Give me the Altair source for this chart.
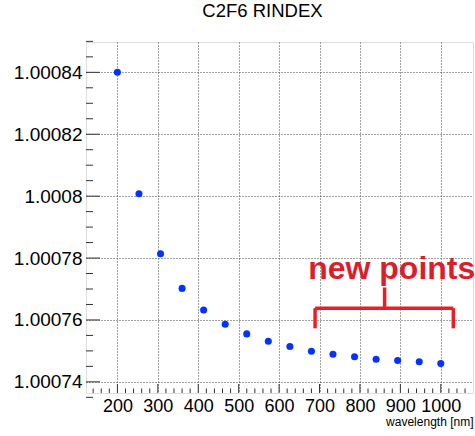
import altair as alt
import pandas as pd

# Refractive index of C2F6 versus photon wavelength
wavelength_nm = [200.0, 253.3, 306.7, 360.0, 413.3, 466.7, 520.0, 573.3,
                 626.7, 680.0, 733.3, 786.7, 840.0, 893.3, 946.7, 1000.0]
rindex = [1.000840, 1.0008008, 1.0007814, 1.0007702, 1.0007632, 1.0007586,
          1.0007555, 1.0007531, 1.0007514, 1.0007499, 1.0007489, 1.0007481,
          1.0007473, 1.0007469, 1.0007465, 1.0007459]

# Axis ranges and tick positions
x_domain = [122.3, 1079.7]
y_domain = [1.0007364, 1.0008498]
x_major = [200, 300, 400, 500, 600, 700, 800, 900, 1000]
x_minor = [v for v in range(140, 1080, 20) if v % 100 != 0]
y_major = [1.00074, 1.00076, 1.00078, 1.00080, 1.00082, 1.00084]
y_labels = ["1.00074", "1.00076", "1.00078", "1.0008", "1.00082", "1.00084"]
y_minor = [1.000740 + 0.000005 * i for i in range(-1, 23) if i % 4 != 0]

# "new points" bracket, in data coordinates
bracket_x = [689, 1031]
bracket_mid_x = 861
bracket_y = 1.0007638
bracket_leg_y = 1.0007573
bracket_tip_y = 1.0007705
label_x = 672
label_y = 1.0007733

W, H = 387, 351
BLUE = "#0433ff"
RED = "#ee1c25"
FONT = "Liberation Sans"
GRID = "#444444"

xs = alt.Scale(domain=x_domain, nice=False, zero=False)
ys = alt.Scale(domain=y_domain, nice=False, zero=False)

label_expr = "{" + ",".join(f"'{v:.5f}':'{t}'" for v, t in zip(y_major, y_labels)) + "}"

pts = pd.DataFrame({"wavelength": wavelength_nm, "rindex": rindex})

points = alt.Chart(pts).mark_circle(size=50, color=BLUE, opacity=1).encode(
    x=alt.X("wavelength:Q", scale=xs,
            axis=alt.Axis(values=x_major, title="wavelength [nm]", titleAnchor="end",
                          titleAlign="right", titleFontSize=12, titleFontWeight="normal",
                          titlePadding=1, labelFontSize=18, labelPadding=4, tickSize=0,
                          domain=False, grid=True, gridDash=[1, 2], gridColor=GRID,
                          gridOpacity=1, labelColor="black", titleColor="black",
                          labelFont=FONT, titleFont=FONT, format="d")),
    y=alt.Y("rindex:Q", scale=ys,
            axis=alt.Axis(values=y_major, title=None, labelFontSize=19, labelPadding=4,
                          labelExpr=f"{label_expr}[format(datum.value, '.5f')] || datum.label",
                          tickSize=0, domain=False, grid=True, gridDash=[1, 2],
                          gridColor=GRID, gridOpacity=1, labelColor="black",
                          labelFont=FONT)),
)

# inward tick marks, ROOT style
xmaj = alt.Chart(pd.DataFrame({"v": x_major})).mark_rule(color="#333333", strokeWidth=1).encode(
    x=alt.X("v:Q", scale=xs), y=alt.value(H), y2=alt.value(H - 9))
xmin = alt.Chart(pd.DataFrame({"v": x_minor})).mark_rule(color="#333333", strokeWidth=1).encode(
    x=alt.X("v:Q", scale=xs), y=alt.value(H), y2=alt.value(H - 4.5))
ymaj = alt.Chart(pd.DataFrame({"v": y_major})).mark_rule(color="#333333", strokeWidth=1).encode(
    y=alt.Y("v:Q", scale=ys), x=alt.value(0), x2=alt.value(14))
ymin = alt.Chart(pd.DataFrame({"v": y_minor})).mark_rule(color="#333333", strokeWidth=1).encode(
    y=alt.Y("v:Q", scale=ys), x=alt.value(0), x2=alt.value(7))

# bracket marking the added points
seg = pd.DataFrame({
    "x1": [bracket_x[0], bracket_x[0], bracket_x[1], bracket_mid_x],
    "x2": [bracket_x[1], bracket_x[0], bracket_x[1], bracket_mid_x],
    "y1": [bracket_y, bracket_y, bracket_y, bracket_y],
    "y2": [bracket_y, bracket_leg_y, bracket_leg_y, bracket_tip_y],
})
bracket = alt.Chart(seg).mark_rule(color=RED, strokeWidth=3.5).encode(
    x=alt.X("x1:Q", scale=xs), x2="x2:Q",
    y=alt.Y("y1:Q", scale=ys), y2="y2:Q")

label = alt.Chart(pd.DataFrame({"x": [label_x], "y": [label_y], "t": ["new points"]})).mark_text(
    color="#d91f2b", font=FONT, fontSize=32, fontWeight="bold", align="left",
    baseline="alphabetic").encode(
    x=alt.X("x:Q", scale=xs), y=alt.Y("y:Q", scale=ys), text="t:N")

chart = alt.layer(points, xmaj, xmin, ymaj, ymin, bracket, label).properties(
    width=W, height=H,
    title=alt.TitleParams("C2F6 RINDEX", fontSize=18.5, font=FONT, fontWeight="normal",
                          color="black", anchor="middle", dx=-17, offset=20),
    autosize=alt.AutoSizeParams(type="none"),
    padding={"left": 86, "top": 42, "right": 2, "bottom": 43},
).configure_view(stroke="#333333", strokeWidth=1.2).configure(background="white")

chart.save("out.html", embed_options={"renderer": "svg", "actions": False})
